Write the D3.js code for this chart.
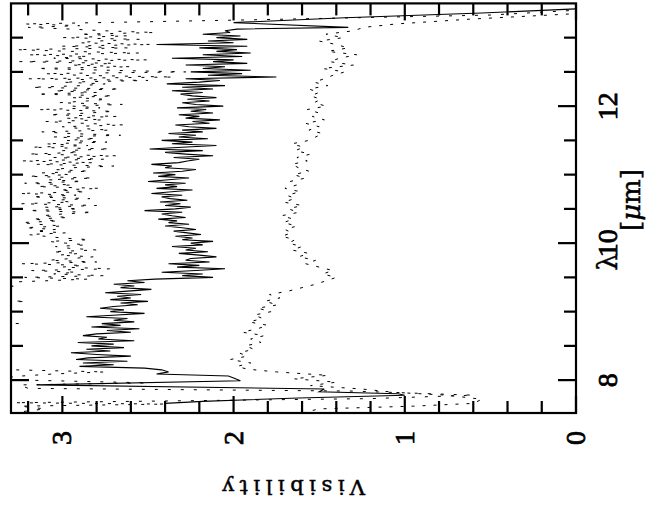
<!DOCTYPE html>
<html>
<head>
<script src="https://d3js.org/d3.v7.min.js"></script>
<style>
  body { margin: 0; background: #fff; }
</style>
</head>
<body>
<div id="target"></div>
<script>
// spectra sampled on a regular wavelength grid (micron)
var gridStart = 8.2, stepFine = 0.025, stepCoarse = 0.05;

// visibility, measured
var visMain = [
  2.90, 2.70, 2.88, 2.62, 2.92, 2.85, 2.60, 2.80, 2.95, 2.72, 2.86, 2.64, 2.83, 2.70, 2.91, 2.58, 2.79, 2.74, 2.88,
  2.80, 2.60, 2.74, 2.55, 2.83, 2.66, 2.77, 2.58, 2.70, 2.62, 2.86, 2.68, 2.52, 2.72, 2.64, 2.78,
  2.70, 2.56, 2.66, 2.50, 2.72, 2.60, 2.68, 2.54, 2.75, 2.62, 2.48, 2.66, 2.58, 2.70, 2.52, 2.62, 2.46,
  2.12, 2.30, 2.18, 2.42, 2.22, 2.05, 2.33, 2.20, 2.38, 2.14, 2.28, 2.25, 2.10,
  2.20, 2.32, 2.15, 2.28, 2.22, 2.36, 2.18, 2.25, 2.12, 2.30, 2.24, 2.34, 2.19, 2.27, 2.35, 2.22,
  2.30, 2.40, 2.26, 2.38, 2.33, 2.44, 2.28, 2.36, 2.42, 2.30, 2.52, 2.34, 2.25, 2.40, 2.31, 2.43, 2.27, 2.37,
  2.42, 2.30, 2.48, 2.36, 2.24, 2.45, 2.33, 2.40, 2.28, 2.50, 2.38, 2.26, 2.44, 2.34, 2.47, 2.30, 2.22, 2.40, 2.36, 2.48, 2.32, 2.27,
  2.20, 2.35, 2.12, 2.28, 2.40, 2.18, 2.49, 2.30, 2.10, 2.36, 2.24, 2.42, 2.15, 2.32, 2.22, 2.38,
  2.18, 2.30, 2.10, 2.26, 2.34, 2.14, 2.24, 2.08, 2.28, 2.20, 2.32, 2.12, 2.25, 2.16, 2.33, 2.06, 2.22, 2.30, 2.14, 2.27, 2.10, 2.24, 2.31, 2.18,
  2.36, 2.12, 2.30, 2.05, 2.39, 2.20, 2.08, 2.28,
  1.75, 2.15, 1.95, 2.25, 1.90, 2.18, 2.05, 2.28, 1.92, 2.12, 2.00, 2.36,
  1.95, 2.18, 1.90, 2.10, 1.98, 2.20, 1.92, 2.45,
  2.00, 2.15, 1.92, 2.10, 1.96, 2.18, 2.02, 2.05
];
var visMainBlue = [[7.66,2.40],[7.69,2.18],[7.74,1.62],[7.78,1.00],[7.80,1.04],[7.83,1.50],[7.87,1.47],
  [7.93,3.15],[7.99,1.96],[8.03,2.00],[8.06,2.03],[8.09,2.45],[8.12,2.38],[8.15,2.42],[8.175,2.52]];
var visMainRed = [[13.125,1.98],[13.15,1.33],[13.22,2.00],[13.29,1.35],[13.36,0.55],[13.42,0.00]];

// upper and lower bounds (dotted)
var visUpper = [
  3.60, 3.75, 3.50, 3.82, 3.65, 3.90, 3.55, 3.78, 3.62, 3.85, 3.70, 3.58, 3.80, 3.66, 3.92, 3.54, 3.72, 3.60, 3.86, 3.68, 3.52, 3.76, 3.64, 3.45,
  3.40, 3.25, 3.55, 3.38, 3.62, 3.45, 3.28, 3.58, 3.42, 3.66, 3.50, 3.35, 3.60, 3.44, 3.21, 3.52, 3.40, 3.58, 3.36, 3.48, 3.30, 3.55, 3.42, 3.26, 3.50, 3.38,
  3.10, 2.85, 3.22, 2.76, 3.05, 2.92, 3.18, 2.72, 3.00, 2.88, 3.24, 2.80, 3.08, 2.95,
  2.82, 3.02, 2.90, 3.06, 2.80, 2.96, 3.04, 2.86, 2.98, 3.08, 2.84, 3.00,
  3.10, 3.20, 2.98, 3.16, 3.04, 3.22, 3.00, 3.14, 3.24, 3.02, 3.18, 2.96, 3.12,
  3.00, 2.82, 3.20, 2.90, 3.10, 2.80, 3.24, 2.95, 3.06, 2.84, 3.18, 2.92, 3.25, 2.86, 3.02, 2.78, 3.15, 2.94, 3.22, 2.88, 3.08, 2.82, 3.20, 2.96, 3.12, 2.84, 3.05,
  2.95, 2.70, 3.15, 2.82, 3.24, 2.76, 3.05, 2.68, 3.20, 2.90, 3.00, 2.72, 3.18, 2.85, 3.10, 2.74, 2.98,
  2.80, 3.05, 2.66, 2.95, 3.12, 2.72, 2.90, 3.00, 2.64, 2.88, 3.10, 2.76, 2.98, 2.68, 3.08, 2.84, 2.70, 3.14, 2.78, 2.94, 2.65, 3.02, 2.86, 2.74,
  2.95, 2.70, 3.15, 2.80, 3.05, 2.66, 3.18, 2.88, 2.75,
  3.00, 2.50, 3.20, 2.35, 2.90, 3.10, 2.28, 2.75, 3.15, 2.60, 2.95,
  2.70, 3.25, 2.50, 3.05, 2.85, 3.20, 2.55, 2.95, 3.27, 2.62, 3.00, 2.48, 2.90,
  2.80, 2.55, 3.00, 2.62, 2.90, 2.46, 2.75, 2.95,
  3.20, 2.90, 3.22
];
var visUpperBlue = [[7.52,3.30],[7.58,3.10],[7.62,3.25],[7.65,2.40],[7.67,3.28],[7.73,1.20],[7.78,0.60],[7.84,1.30],
  [7.88,3.20],[7.93,3.25],[7.96,2.50],[8.00,3.22],[8.05,3.30],[8.09,3.05],[8.12,2.75],[8.15,3.28],[8.175,3.50]];
var visUpperRed = [[13.26,1.90],[13.33,0.50],[13.40,0.00]];

var visLower = [
  1.98, 1.90, 2.02, 1.92, 1.97, 1.88,
  1.93, 1.84, 1.90, 1.82, 1.95, 1.86, 1.80, 1.91, 1.83, 1.88,
  1.78, 1.86, 1.74, 1.82, 1.73, 1.79,
  1.68, 1.60, 1.52, 1.46,
  1.40, 1.48, 1.42,
  1.50, 1.58, 1.52, 1.62,
  1.56, 1.66, 1.60, 1.68,
  1.64, 1.72, 1.66, 1.70, 1.63, 1.71,
  1.65, 1.72, 1.62, 1.68, 1.60, 1.71, 1.64, 1.69, 1.61, 1.70, 1.63, 1.67,
  1.58, 1.65, 1.56, 1.62, 1.66, 1.57, 1.63, 1.55, 1.64, 1.59, 1.66, 1.56,
  1.52, 1.48, 1.56, 1.50, 1.58, 1.47, 1.54, 1.50, 1.57, 1.46, 1.53, 1.49, 1.55,
  1.50, 1.56, 1.45, 1.53, 1.47,
  1.42, 1.35, 1.48, 1.30, 1.44, 1.38, 1.28, 1.45, 1.33, 1.40,
  1.50, 1.36, 1.46,
  1.30, 1.24, 1.05
];
var visLowerBlue = [[7.52,1.60],[7.58,1.50],[7.62,0.95],[7.66,0.60],[7.72,0.55],[7.78,0.75],[7.82,1.05],
  [7.87,1.25],[7.92,1.55],[7.97,1.40],[8.02,1.65],[8.07,1.45],[8.12,1.75],[8.16,1.92]];
var visLowerRed = [[13.27,0.62],[13.35,0.00]];

var lamMajor = [8, 10, 12];
var lamMinor = [8.5, 9, 9.5, 10.5, 11, 11.5, 12.5, 13];
var visMajor = [0, 1, 2, 3];
var visMinor = [0.2, 0.4, 0.6, 0.8, 1.2, 1.4, 1.6, 1.8, 2.2, 2.4, 2.6, 2.8, 3.2];

function series(edgeLo, vals, step, edgeHi) {
  var pts = vals.map(function(v, i) { return [gridStart + i * step, v]; });
  return edgeLo.concat(pts).concat(edgeHi);
}

var svg = d3.select('#target')
  .append('svg')
  .attr('width', 647)
  .attr('height', 508);

// the plot is drawn upright and then turned a quarter turn anticlockwise
var g = svg.append('g')
  .attr('transform', 'translate(0,508) rotate(-90)');

var x = d3.scaleLinear().domain([7.52, 13.5]).range([95, 504.6]);
var y = d3.scaleLinear().domain([0, 3.3]).range([576, 11]);

g.append('clipPath').attr('id', 'frame')
  .append('rect')
  .attr('x', x(7.52)).attr('y', y(3.3))
  .attr('width', x(13.5) - x(7.52)).attr('height', y(0) - y(3.3));

var line = d3.line()
  .x(function(d) { return x(d[0]); })
  .y(function(d) { return y(d[1]); });

var data = g.append('g').attr('clip-path', 'url(#frame)');

data.append('path')
  .datum(series(visUpperBlue, visUpper, stepFine, visUpperRed))
  .attr('d', line)
  .attr('fill', 'none').attr('stroke', '#000')
  .attr('stroke-width', 1).attr('stroke-dasharray', '3,10');

data.append('path')
  .datum(series(visLowerBlue, visLower, stepCoarse, visLowerRed))
  .attr('d', line)
  .attr('fill', 'none').attr('stroke', '#000')
  .attr('stroke-width', 1).attr('stroke-dasharray', '3,8');

data.append('path')
  .datum(series(visMainBlue, visMain, stepFine, visMainRed))
  .attr('d', line)
  .attr('fill', 'none').attr('stroke', '#000')
  .attr('stroke-width', 1.1);

// ticks on all four sides
var ticks = g.append('g').attr('stroke', '#000').attr('stroke-width', 2.2);
function lamTick(t, len) {
  ticks.append('line').attr('x1', x(t)).attr('x2', x(t)).attr('y1', y(0)).attr('y2', y(0) - len);
  ticks.append('line').attr('x1', x(t)).attr('x2', x(t)).attr('y1', y(3.3)).attr('y2', y(3.3) + len);
}
function visTick(v, len) {
  ticks.append('line').attr('y1', y(v)).attr('y2', y(v)).attr('x1', x(7.52)).attr('x2', x(7.52) + len);
  ticks.append('line').attr('y1', y(v)).attr('y2', y(v)).attr('x1', x(13.5)).attr('x2', x(13.5) - len);
}
lamMajor.forEach(function(t) { lamTick(t, 18); });
lamMinor.forEach(function(t) { lamTick(t, 12); });
visMajor.forEach(function(v) { visTick(v, 17); });
visMinor.forEach(function(v) { visTick(v, 12); });

g.append('rect')
  .attr('x', x(7.52)).attr('y', y(3.3))
  .attr('width', x(13.5) - x(7.52)).attr('height', y(0) - y(3.3))
  .attr('fill', 'none').attr('stroke', '#000').attr('stroke-width', 2.2);

// labels
var txt = g.append('g').attr('fill', '#000').attr('stroke', '#000').attr('stroke-width', 0.8);

txt.selectAll('.lamlab').data(lamMajor).enter().append('text')
  .attr('x', function(d) { return x(d); })
  .attr('y', 617)
  .attr('text-anchor', 'middle')
  .style('font-family', 'Liberation Serif').style('font-size', '28px')
  .text(function(d) { return d; });

txt.selectAll('.vislab').data(visMajor).enter().append('text')
  .attr('x', 70)
  .attr('y', function(d) { return y(d) + 9; })
  .attr('text-anchor', 'middle')
  .style('font-family', 'Liberation Serif').style('font-size', '28px')
  .text(function(d) { return d; });

txt.append('text')
  .attr('transform', 'translate(28,' + (y(0) + y(3.3)) / 2 + ') rotate(-90)')
  .attr('text-anchor', 'middle')
  .attr('textLength', 143).attr('lengthAdjust', 'spacing')
  .attr('stroke-width', 0.5)
  .style('font-family', 'DejaVu Serif').style('font-size', '21px')
  .text('Visibility');

txt.append('text')
  .attr('x', 246).attr('y', 617)
  .attr('text-anchor', 'middle')
  .attr('stroke-width', 0.5)
  .style('font-family', 'DejaVu Serif').style('font-size', '27px')
  .text('λ');

var unit = txt.append('text')
  .attr('x', 308).attr('y', 640)
  .attr('text-anchor', 'middle')
  .attr('stroke-width', 0.5)
  .style('font-family', 'DejaVu Serif').style('font-size', '26px');
unit.append('tspan').text('[');
unit.append('tspan').style('font-style', 'italic').text('μ');
unit.append('tspan').text('m]');
</script>
</body>
</html>
